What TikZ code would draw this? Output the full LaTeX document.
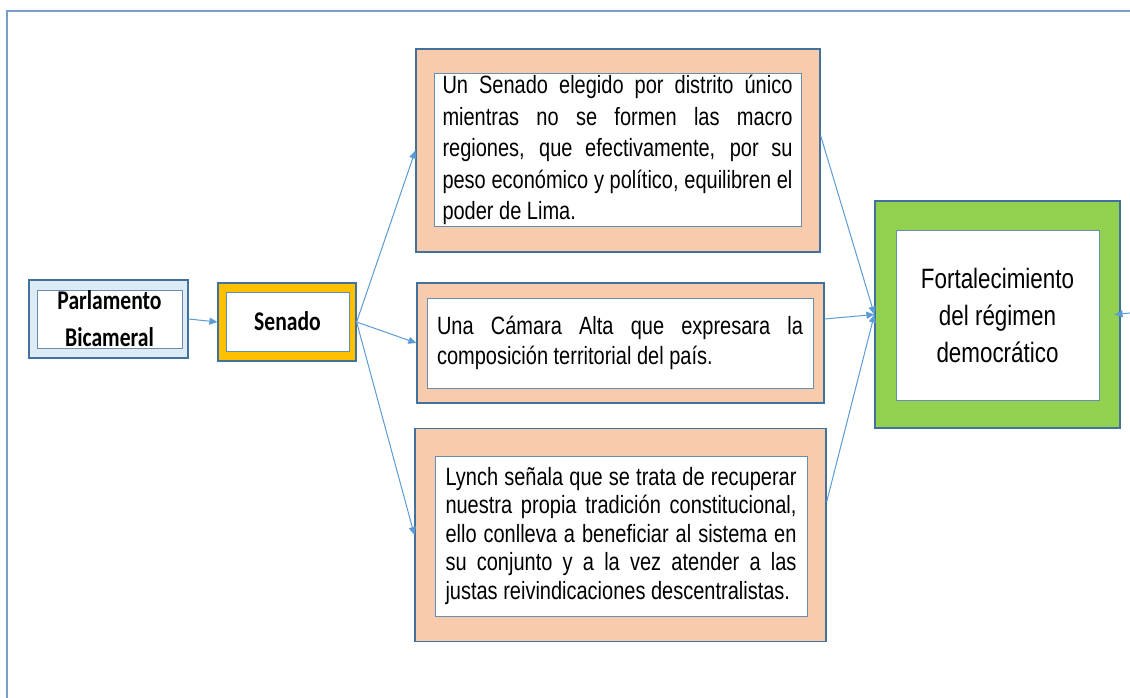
\documentclass[tikz,border=0pt]{standalone}
\usepackage{fontspec}
\setmainfont[FakeStretch=0.8]{Liberation Sans}
\newfontfamily\calibri[FakeStretch=0.8]{Carlito}
\usetikzlibrary{arrows.meta}
\definecolor{marco}{HTML}{41719C}
\definecolor{linea}{HTML}{5B9BD5}
\definecolor{salmon}{HTML}{F8CBAD}
\definecolor{verde}{HTML}{92D050}
\definecolor{oro}{HTML}{FFC000}
\definecolor{celeste}{HTML}{DDEBF7}
\definecolor{borde}{HTML}{7A9CC6}

\begin{document}
\begin{tikzpicture}[x=1pt,y=-1pt,
    outer/.style={draw=marco,line width=1.2pt,inner sep=0pt},
    inner/.style={draw=marco!80,line width=1pt,fill=white,inner sep=0pt},
    flecha/.style={draw=linea,line width=1pt,-{Triangle[length=8pt,width=7pt]}}]
    \useasboundingbox (0,0) rectangle (1130,698);
    \clip (0,0) rectangle (1130,698); % page frame runs off the picture
    \draw[borde,line width=1.5pt] (7,11) rectangle (1200,760);

    \node[outer,fill=celeste,minimum width=159pt,minimum height=78pt] (parl) at (108.5,319) {};
    \node[inner,minimum width=145pt,minimum height=58pt,align=center,
        font=\calibri\bfseries\fontsize{27}{37}\selectfont] (parlt) at (109.5,319) {Parlamento\\Bicameral};

    \node[outer,fill=oro,minimum width=138pt,minimum height=78pt] (sen) at (287,322) {};
    \node[inner,minimum width=123pt,minimum height=59pt,
        font=\calibri\bfseries\fontsize{27}{37}\selectfont] (sent) at (287.5,321.5) {Senado};

    \node[outer,fill=salmon,minimum width=404pt,minimum height=203pt] (uno) at (618,150.5) {};
    \node[inner,minimum width=367pt,minimum height=152pt,text width=350pt,align=justify,
        font=\fontsize{25}{31.5}\selectfont] (unot) at (617.5,150) {Un Senado elegido por distrito único\linebreak
        mientras no se formen las macro\linebreak
        regiones, que efectivamente, por su\linebreak
        peso económico y político, equilibren el\linebreak
        poder de Lima.};

    \node[outer,fill=salmon,minimum width=407pt,minimum height=120pt] (dos) at (620.5,343) {};
    \node[inner,minimum width=386pt,minimum height=90pt,text width=366pt,align=justify,
        font=\fontsize{25}{30}\selectfont] (dost) at (620,343) {Una Cámara Alta que expresara la\linebreak
        composición territorial del país.};

    \node[outer,fill=salmon,minimum width=411pt,minimum height=213pt] (tres) at (620.5,535) {};
    \node[inner,minimum width=372pt,minimum height=160pt,text width=351pt,align=justify,
        font=\fontsize{25}{28.5}\selectfont] (trest) at (621,536) {Lynch señala que se trata de recuperar\linebreak
        nuestra propia tradición constitucional,\linebreak
        ello conlleva a beneficiar al sistema en\linebreak
        su conjunto y a la vez atender a las\linebreak
        justas reivindicaciones descentralistas.};

    \node[outer,fill=verde,minimum width=245pt,minimum height=227pt] (fort) at (997.5,314.5) {};
    \node[inner,minimum width=203pt,minimum height=170pt,align=center,
        font=\fontsize{28}{37}\selectfont] (fortt) at (997.5,315) {Fortalecimiento\\del régimen\\democrático};

    \draw[flecha] (parl.east) -- (sen.west);
    \draw[flecha] (sen.east) -- (uno.west);
    \draw[flecha] (sen.east) -- (dos.west);
    \draw[flecha] (sen.east) -- (tres.west);
    \draw[flecha] ([yshift=15pt]uno.east) -- (fort.west);
    \draw[flecha] ([yshift=24pt]dos.east) -- (fort.west);
    \draw[flecha] ([yshift=33pt]tres.east) -- (fort.west);
    \coordinate (fuera) at (1140,312);
    \draw[flecha] (fuera) -- ([xshift=-6pt]fort.east);
\end{tikzpicture}
\end{document}
